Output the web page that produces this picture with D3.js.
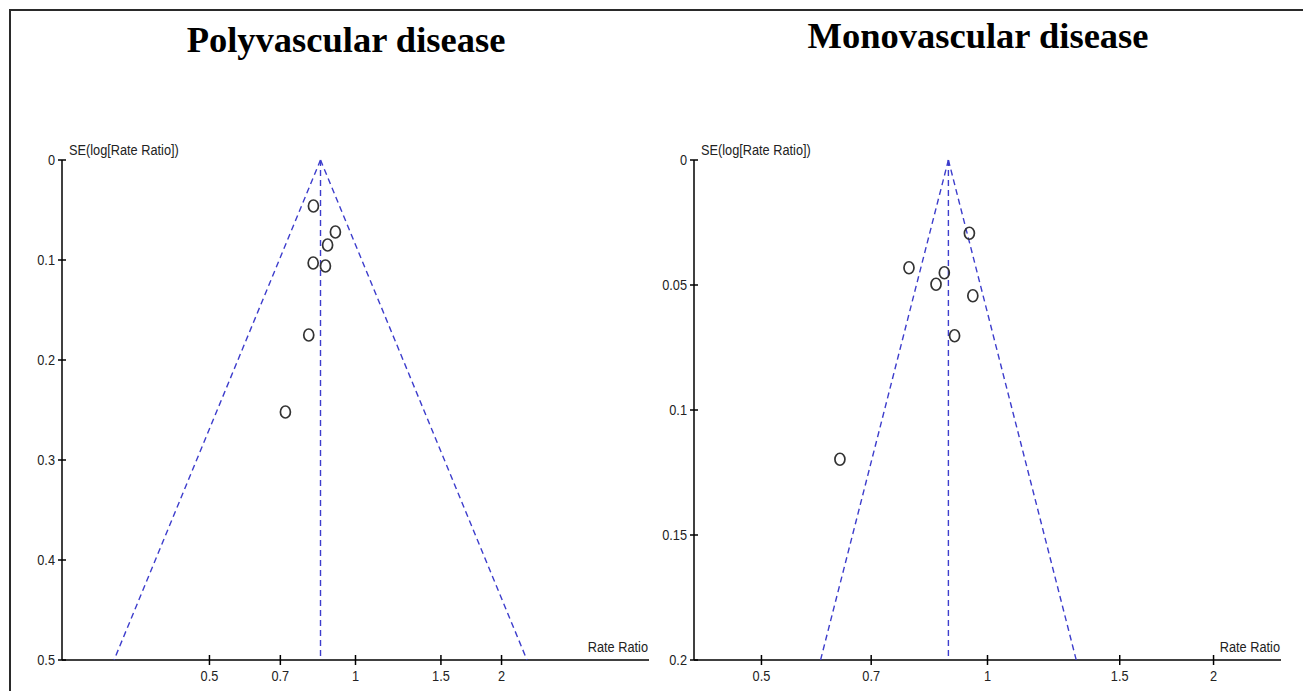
<!DOCTYPE html>
<html>
<head>
<meta charset="utf-8">
<script src="https://cdn.jsdelivr.net/npm/d3@7"></script>
<style>
  html, body { margin: 0; padding: 0; background: #fff; overflow: hidden; }
  svg { display: block; }
  .tick-label, .axis-title { font-family: "Liberation Sans", Arial, sans-serif; font-size: 14.5px; fill: #222; }
  .panel-title { font-family: "Liberation Serif", "Times New Roman", serif; font-weight: bold; font-size: 36.5px; fill: #000; }
</style>
</head>
<body>
<svg id="chart" width="1303" height="691"></svg>
<script>
// Polyvascular disease studies
const polyRR = [0.819, 0.909, 0.876, 0.818, 0.867, 0.801, 0.717];
const polySE = [0.046, 0.072, 0.085, 0.103, 0.106, 0.175, 0.252];
const polyPooled = 0.847;

// Monovascular disease studies
const monoRR = [0.946, 0.786, 0.876, 0.854, 0.956, 0.904, 0.636];
const monoSE = [0.0293, 0.0431, 0.0451, 0.0497, 0.0543, 0.0703, 0.1197];
const monoPooled = 0.887;

const xTicks = [0.5, 0.7, 1, 1.5, 2];
const polyYTicks = [0, 0.1, 0.2, 0.3, 0.4, 0.5];
const monoYTicks = [0, 0.05, 0.1, 0.15, 0.2];

const svg = d3.select("#chart");
const squeeze = 0.88; // source font is a narrow sans

// outer frame (runs off right / bottom edge like the source)
svg.append("rect")
    .attr("x", 10).attr("y", 10)
    .attr("width", 1320).attr("height", 700)
    .attr("fill", "none")
    .attr("stroke", "#2a2a2a")
    .attr("stroke-width", 2);

function narrowText(parent, cls, px, py, anchor, txt) {
    return parent.append("text")
        .attr("class", cls)
        .attr("transform", `translate(${px},${py}) scale(${squeeze},1)`)
        .attr("text-anchor", anchor)
        .text(txt);
}

function drawFunnel(opt) {
    const g = svg.append("g");
    const x = d3.scaleLog().domain(opt.xDomain).range([opt.left, opt.left + 587]);
    const y = d3.scaleLinear().domain([0, opt.seMax]).range([160, 660]);

    // title
    svg.append("text")
        .attr("class", "panel-title")
        .attr("x", opt.titleX)
        .attr("y", opt.titleY)
        .attr("text-anchor", "middle")
        .text(opt.title);

    // y axis
    g.append("line")
        .attr("x1", x.range()[0]).attr("x2", x.range()[0])
        .attr("y1", y(0)).attr("y2", y(opt.seMax))
        .attr("stroke", "#000").attr("stroke-width", 1.5);
    opt.yTicks.forEach(t => {
        g.append("line")
            .attr("x1", x.range()[0] - 4).attr("x2", x.range()[0] + 4)
            .attr("y1", y(t)).attr("y2", y(t))
            .attr("stroke", "#000").attr("stroke-width", 1.5);
        narrowText(g, "tick-label", x.range()[0] - 7, y(t) + 5, "end", t);
    });

    // x axis
    g.append("line")
        .attr("x1", x.range()[0]).attr("x2", x.range()[1])
        .attr("y1", y(opt.seMax)).attr("y2", y(opt.seMax))
        .attr("stroke", "#000").attr("stroke-width", 1.5);
    xTicks.forEach(t => {
        g.append("line")
            .attr("x1", x(t)).attr("x2", x(t))
            .attr("y1", y(opt.seMax) - 5).attr("y2", y(opt.seMax) + 5)
            .attr("stroke", "#000").attr("stroke-width", 1.5);
        narrowText(g, "tick-label", x(t), y(opt.seMax) + 21, "middle", t);
    });

    narrowText(g, "axis-title", x.range()[0] + 7, y(0) - 5, "start", "SE(log[Rate Ratio])");
    narrowText(g, "axis-title", x.range()[1] - 1, y(opt.seMax) - 8, "end", "Rate Ratio");

    // funnel (pseudo 95% CI limits) + pooled line
    const lp = Math.log(opt.pooled);
    const lo = Math.exp(lp - 1.96 * opt.seMax);
    const hi = Math.exp(lp + 1.96 * opt.seMax);
    const funnel = [
        [[opt.pooled, 0], [lo, opt.seMax]],
        [[opt.pooled, 0], [hi, opt.seMax]],
        [[opt.pooled, 0], [opt.pooled, opt.seMax]]
    ];
    funnel.forEach(seg => {
        g.append("line")
            .attr("x1", x(seg[0][0])).attr("y1", y(seg[0][1]))
            .attr("x2", x(seg[1][0])).attr("y2", y(seg[1][1]))
            .attr("stroke", "#3d3dcc")
            .attr("stroke-width", 1.4)
            .attr("stroke-dasharray", "6,4");
    });

    // studies
    g.selectAll("ellipse.study")
        .data(opt.rr.map((r, i) => ({rr: r, se: opt.se[i]})))
        .join("ellipse")
        .attr("class", "study")
        .attr("cx", d => x(d.rr))
        .attr("cy", d => y(d.se))
        .attr("rx", 5)
        .attr("ry", 6)
        .attr("fill", "none")
        .attr("stroke", "#333")
        .attr("stroke-width", 1.7);
}

drawFunnel({
    title: "Polyvascular disease", titleX: 346, titleY: 52,
    left: 62, xDomain: [Math.exp(-1.393), Math.exp(1.393)],
    seMax: 0.5, yTicks: polyYTicks,
    rr: polyRR, se: polySE, pooled: polyPooled
});

drawFunnel({
    title: "Monovascular disease", titleX: 978, titleY: 48,
    left: 694, xDomain: [Math.exp(-0.9), Math.exp(0.9)],
    seMax: 0.2, yTicks: monoYTicks,
    rr: monoRR, se: monoSE, pooled: monoPooled
});
</script>
</body>
</html>
